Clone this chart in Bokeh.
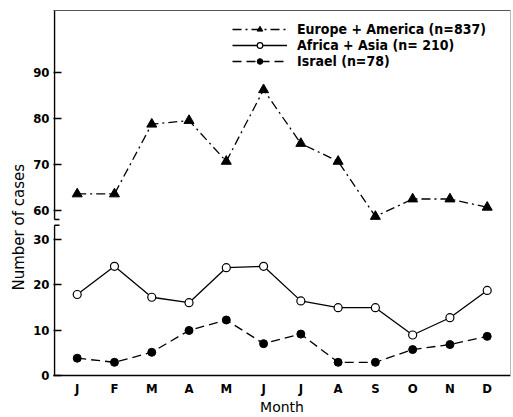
from bokeh.plotting import figure
from bokeh.models import Range1d, LinearAxis, FixedTicker, Legend, LegendItem, Title
from bokeh.embed import file_html
from bokeh.resources import INLINE

# ---- data ----
months = ["J", "F", "M", "A", "M", "J", "J", "A", "S", "O", "N", "D"]
month_index = [1, 2, 3, 4, 5, 6, 7, 8, 9, 10, 11, 12]
europe = [63.6, 63.6, 78.8, 79.6, 70.7, 86.3, 74.6, 70.7, 58.7, 62.5, 62.5, 60.7]
africa = [17.8, 24.0, 17.2, 16.0, 23.7, 24.0, 16.4, 14.9, 14.9, 8.9, 12.7, 18.7]
israel = [3.8, 2.9, 5.1, 9.9, 12.2, 7.0, 9.1, 2.9, 2.9, 5.7, 6.8, 8.6]
lower_ticks = [0, 10, 20, 30]
upper_ticks = [60, 70, 80, 90]
legend_labels = ["Europe + America (n=837)", "Africa + Asia (n= 210)", "Israel (n=78)"]
y_title = "Number of cases"
x_title = "Month"

# ---- layout constants ----
X_START, X_END = 0.364, 12.625
LOW_END = 80.22                    # lower (0-30) scale, spans the whole frame
UP_START, UP_END = 24.05, 103.57   # upper (60-90) scale, spans the whole frame
BREAK_LO, BREAK_HI = 33.0, 34.3    # axis break, in lower-scale units
FRAME_W = 457
PX_X = FRAME_W / (X_END - X_START)
TICK_FONT = "DejaVu Sans Condensed"

p = figure(width=513, height=417, output_backend="svg", toolbar_location=None,
           x_range=Range1d(X_START, X_END), y_range=Range1d(0, LOW_END),
           min_border_left=53, min_border_right=3, min_border_top=10, min_border_bottom=42,
           outline_line_color=None)
p.extra_y_ranges = {"upper": Range1d(UP_START, UP_END)}
p.grid.visible = False
p.background_fill_color = "white"
p.border_fill_color = "white"

# left axis: lower ticks plus the upper ticks mapped onto the lower scale
def to_lower(v):
    return round((v - UP_START) / (UP_END - UP_START) * LOW_END, 6)

upper_pos = [to_lower(v) for v in upper_ticks]
ya = p.yaxis[0]
ya.ticker = FixedTicker(ticks=lower_ticks + upper_pos)
ya.major_label_overrides = {pos: str(v) for pos, v in zip(upper_pos, upper_ticks)}
ya.axis_line_color = None
ya.major_tick_in = 8
ya.major_tick_out = 0
ya.minor_tick_line_color = None
ya.major_tick_line_width = 1.5
ya.major_label_standoff = 4
ya.major_label_text_font = TICK_FONT
ya.major_label_text_font_style = "bold"
ya.major_label_text_font_size = "13px"
ya.major_label_text_color = "black"

xa = p.xaxis[0]
xa.ticker = FixedTicker(ticks=month_index)
xa.major_label_overrides = {i: m for i, m in zip(month_index, months)}
xa.major_tick_in = 0
xa.major_tick_out = 0
xa.minor_tick_line_color = None
xa.axis_line_width = 1.5
xa.major_label_standoff = 5
xa.major_label_text_font = TICK_FONT
xa.major_label_text_font_style = "bold"
xa.major_label_text_font_size = "13px"
xa.major_label_text_color = "black"
xa.axis_label = x_title
xa.axis_label_standoff = 0
xa.axis_label_text_font = "DejaVu Sans"
xa.axis_label_text_font_style = "normal"
xa.axis_label_text_font_size = "14px"
xa.axis_label_text_color = "black"

top = LinearAxis(ticker=FixedTicker(ticks=[]), major_tick_in=0, major_tick_out=0,
                 minor_tick_line_color=None, major_label_standoff=0,
                 axis_line_color="#555555", axis_line_width=1.2)
p.add_layout(top, "above")
right = LinearAxis(ticker=FixedTicker(ticks=[]), major_tick_in=0, major_tick_out=0,
                   minor_tick_line_color=None, major_label_standoff=0,
                   axis_line_color="#bbbbbb", axis_line_width=1)
p.add_layout(right, "right")

# y-axis title, centred on the whole broken axis
p.add_layout(Title(text=y_title, align="left", offset=85, standoff=6,
                   text_font="DejaVu Sans", text_font_style="normal",
                   text_font_size="15px", text_color="black"), "left")

# left axis line with break
eps = 1 / PX_X
cap = 5 / PX_X
p.segment(x0=[X_START + eps, X_START + eps], y0=[0, BREAK_HI],
          x1=[X_START + eps, X_START + eps], y1=[BREAK_LO, LOW_END],
          line_color="black", line_width=1.5)
p.segment(x0=[X_START + eps, X_START + eps], y0=[BREAK_LO, BREAK_HI],
          x1=[X_START + eps + cap, X_START + eps + cap], y1=[BREAK_LO, BREAK_HI],
          line_color="black", line_width=1.5)

# series
l1 = p.line(month_index, europe, y_range_name="upper", line_color="black",
            line_width=1.3, line_dash="9 4 2 4")
s1 = p.scatter(month_index, europe, y_range_name="upper", marker="triangle",
               size=10, fill_color="black", line_color="black")
l2 = p.line(month_index, africa, line_color="black", line_width=1.3)
s2 = p.scatter(month_index, africa, marker="circle", size=8,
               fill_color="white", line_color="black", line_width=1.2)
l3 = p.line(month_index, israel, line_color="black", line_width=1.3, line_dash="9 5")
s3 = p.scatter(month_index, israel, marker="circle", size=8,
               fill_color="black", line_color="black")

legend = Legend(items=[LegendItem(label=legend_labels[0], renderers=[l1, s1]),
                       LegendItem(label=legend_labels[1], renderers=[l2, s2]),
                       LegendItem(label=legend_labels[2], renderers=[l3, s3])],
                location=(179, 306), border_line_color=None, background_fill_alpha=0,
                padding=0, margin=0, spacing=0, glyph_height=14, label_height=14,
                glyph_width=55, label_standoff=10,
                label_text_font=TICK_FONT, label_text_font_style="bold",
                label_text_font_size="14px", label_text_color="black")
p.add_layout(legend, "center")

open("out.html", "w").write(file_html(p, INLINE))
